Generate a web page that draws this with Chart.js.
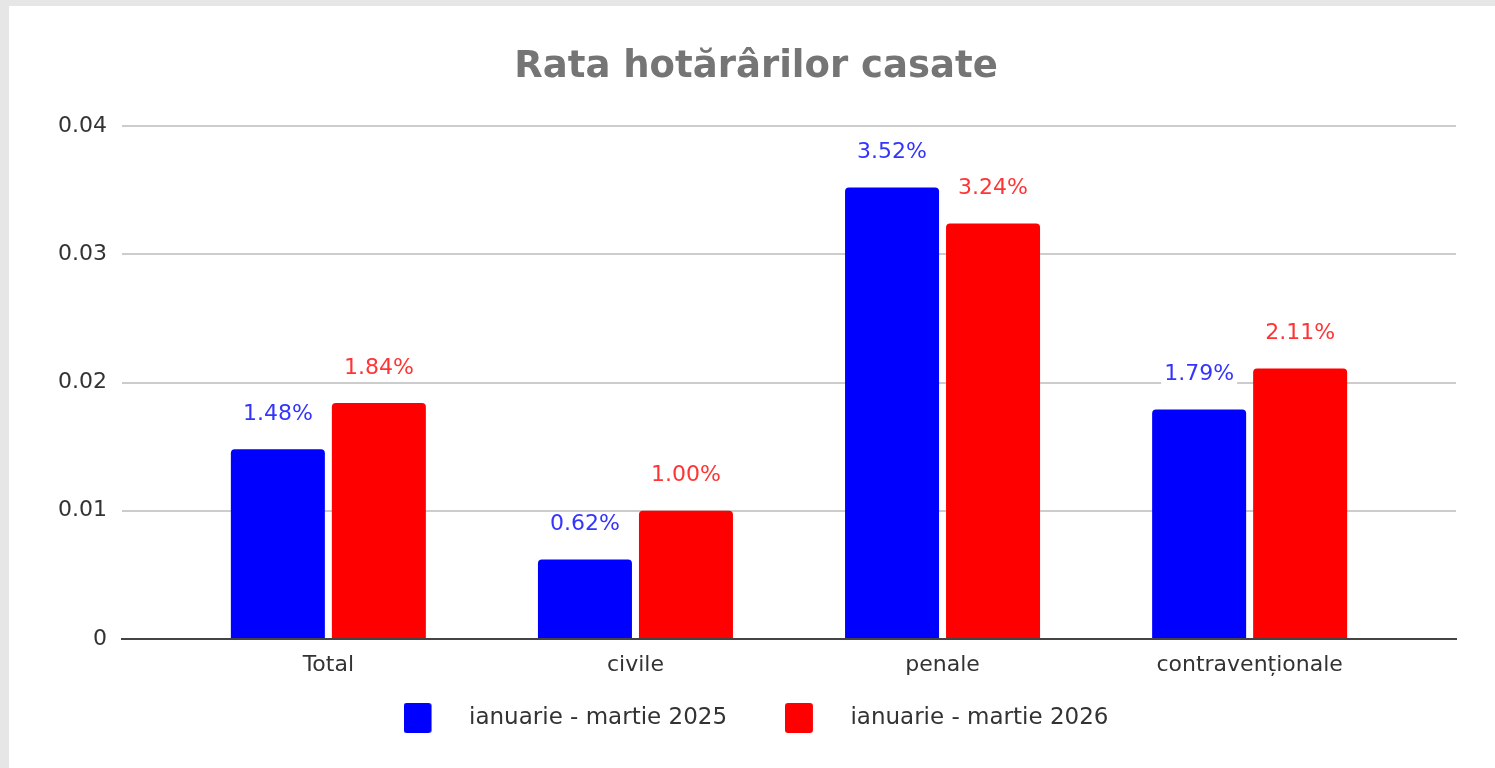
<!DOCTYPE html>
<html><head><meta charset="utf-8">
<script src="https://cdn.jsdelivr.net/npm/chart.js@4"></script>
<style>
html,body{margin:0;padding:0;background:#e6e6e6;width:1495px;height:768px;overflow:hidden}
#card{position:absolute;left:9px;top:6px;width:1486px;height:762px;background:#fff}
canvas{display:block}
</style></head><body>
<div id="card"><canvas id="c" width="1486" height="762"></canvas></div>
<script>
const chartTitle = 'Rata hotărârilor casate';
const categories = ['Total', 'civile', 'penale', 'contravenționale'];
const seriesNames = ['ianuarie - martie 2025', 'ianuarie - martie 2026'];
const values2025 = [0.0148, 0.0062, 0.0352, 0.0179];
const values2026 = [0.0184, 0.0100, 0.0324, 0.0211];
const yTickValues = [0, 0.01, 0.02, 0.03, 0.04];
const yTickLabels = ['0', '0.01', '0.02', '0.03', '0.04'];

const barColors = ['#0000ff', '#ff0000'];
const labelColors = ['#3434ff', '#ff3434'];
const FONT = '"DejaVu Sans", Verdana, sans-serif';

function swatch(color) {
  const c = document.createElement('canvas');
  c.width = 54; c.height = 30;
  const g = c.getContext('2d');
  g.fillStyle = color;
  g.beginPath();
  g.roundRect(0, 0, 28, 30, 3);
  g.fill();
  return c;
}
const swatches = barColors.map(swatch);

const valueLabels = {
  id: 'valueLabels',
  afterDatasetsDraw(chart) {
    const ctx = chart.ctx;
    ctx.save();
    ctx.font = '22px ' + FONT;
    ctx.textAlign = 'center';
    ctx.textBaseline = 'middle';
    chart.data.datasets.forEach((ds, di) => {
      const meta = chart.getDatasetMeta(di);
      meta.data.forEach((bar, i) => {
        const v = ds.data[i].y;
        const txt = (v * 100).toFixed(2) + '%';
        const y = bar.y - 35;
        const w = ctx.measureText(txt).width;
        ctx.fillStyle = '#ffffff';
        ctx.fillRect(bar.x - w / 2 - 3, y - 10, w + 6, 20);
        ctx.fillStyle = labelColors[di];
        ctx.fillText(txt, bar.x, y);
      });
    });
    ctx.restore();
  }
};

const toPoints = arr => arr.map((v, i) => ({x: i, y: v}));

new Chart(document.getElementById('c'), {
  type: 'bar',
  data: {
    datasets: [
      {label: seriesNames[0], data: toPoints(values2025), backgroundColor: barColors[0], borderRadius: 4, borderSkipped: 'start', categoryPercentage: 0.6578, barPercentage: 0.9307},
      {label: seriesNames[1], data: toPoints(values2026), backgroundColor: barColors[1], borderRadius: 4, borderSkipped: 'start', categoryPercentage: 0.6578, barPercentage: 0.9307}
    ]
  },
  options: {
    responsive: false,
    animation: false,
    devicePixelRatio: 1,
    layout: {padding: {left: 47, right: 39, top: 0, bottom: 28.5}},
    scales: {
      x: {
        type: 'linear',
        offset: false,
        min: -0.672,
        max: 3.672,
        grid: {display: false, offset: false},
        border: {display: true, color: '#444444', width: 2},
        afterBuildTicks: s => { s.ticks = categories.map((_, i) => ({value: i})); },
        afterFit: s => { s.height = 53.5; },
        ticks: {
          autoSkip: false,
          maxRotation: 0,
          padding: 5,
          color: '#333333',
          font: {family: FONT, size: 22},
          callback: v => categories[v] !== undefined ? categories[v] : ''
        }
      },
      y: {
        min: 0,
        max: 0.04,
        afterFit: s => { s.width = 66; },
        afterBuildTicks: s => { s.ticks = yTickValues.map(v => ({value: v})); },
        border: {display: false},
        grid: {
          drawTicks: false,
          lineWidth: 2,
          color: c => (c.tick && c.tick.value === 0) ? 'rgba(0,0,0,0)' : '#cccccc'
        },
        ticks: {
          padding: 15,
          color: '#333333',
          font: {family: FONT, size: 22},
          callback: v => {
            const k = yTickValues.findIndex(t => Math.abs(t - v) < 1e-9);
            return k >= 0 ? yTickLabels[k] : '';
          }
        }
      }
    },
    plugins: {
      title: {
        display: true,
        text: chartTitle,
        color: '#757575',
        font: {family: FONT, size: 37, weight: 'bold'},
        padding: {top: 39, bottom: 36.6}
      },
      legend: {
        position: 'bottom',
        labels: {
          usePointStyle: true,
          pointStyleWidth: 54,
          padding: 14,
          color: '#333333',
          font: {family: FONT, size: 23},
          generateLabels: chart => {
            const items = Chart.defaults.plugins.legend.labels.generateLabels(chart);
            items.forEach((it, i) => {
              it.pointStyle = swatches[i];
              it.lineWidth = 0;
              if (i < items.length - 1) it.text = it.text + '      ';
            });
            return items;
          }
        }
      },
      tooltip: {enabled: false}
    }
  },
  plugins: [valueLabels]
});
</script>
</body></html>
